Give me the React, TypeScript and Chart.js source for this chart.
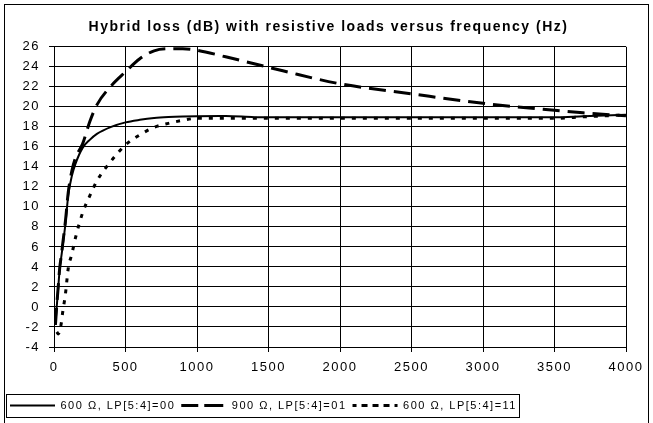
import React, { useEffect, useRef } from 'react';
import { Chart, registerables } from 'chart.js';

Chart.register(...registerables);

const FONT = "Arial, 'Liberation Sans', sans-serif";

const chartTitle = 'Hybrid loss (dB) with resistive loads versus frequency (Hz)';
const seriesLabels = ['600 Ω, LP[5:4]=00', '900 Ω, LP[5:4]=01', '600 Ω, LP[5:4]=11'];

const frequencyHz = [10, 20, 30, 40, 50, 60, 80, 100, 125, 150, 200, 250, 300, 400, 500, 600, 700, 800, 900, 1000, 1200, 1400, 1600, 2000, 2500, 3000, 3500, 3700, 4000];

const loss600_00 = [-1.7, 0.2, 2.0, 3.8, 4.9, 6.0, 8.3, 11.2, 13.1, 14.3, 15.9, 16.7, 17.3, 18.0, 18.45, 18.7, 18.88, 18.98, 19.04, 19.07, 19.08, 18.97, 18.95, 18.95, 18.95, 18.95, 18.95, 19.05, 19.2];
const loss900_01 = [-1.8, 0.3, 2.1, 3.9, 5.0, 6.2, 8.6, 11.5, 13.6, 14.9, 16.3, 18.5, 20.2, 22.1, 23.5, 24.8, 25.6, 25.8, 25.8, 25.65, 25.0, 24.3, 23.6, 22.3, 21.3, 20.35, 19.65, 19.4, 19.1];
const loss600_11 = [null, -2.5, -2.7, -2.4, -1.7, -0.6, 1.3, 3.9, 5.3, 6.9, 9.4, 11.1, 12.6, 14.6, 16.2, 17.2, 17.95, 18.35, 18.65, 18.85, 18.85, 18.85, 18.85, 18.85, 18.85, 18.85, 18.85, 19.0, 19.2];

const xMin = 0, xMax = 4000, xStep = 500;
const yMin = -4, yMax = 26, yStep = 2;

const toPoints = (vals: (number | null)[]) => frequencyHz.map((x, i) => ({ x, y: vals[i] }));

const setSpacing = (chart: any) => { try { chart.ctx.letterSpacing = '1.5px'; } catch (e) { /* ignore */ } };

const spacingPlugin = {
  id: 'spacing',
  beforeUpdate: setSpacing,
  beforeLayout: setSpacing,
  beforeDraw: setSpacing,
};

const framePlugin = {
  id: 'frames',
  afterDraw(chart: any) {
    const ctx = chart.ctx;
    ctx.save();
    ctx.strokeStyle = '#000';
    ctx.lineWidth = 1;
    ctx.setLineDash([]);
    ctx.strokeRect(4.5, 4.5, 644, 440);
    const boxes = chart.legend && chart.legend.legendHitBoxes;
    if (boxes && boxes.length) {
      let l = Infinity, r = -Infinity, t = Infinity, b = -Infinity;
      boxes.forEach((h: any) => {
        l = Math.min(l, h.left); r = Math.max(r, h.left + h.width);
        t = Math.min(t, h.top); b = Math.max(b, h.top + h.height);
      });
      ctx.strokeRect(Math.round(l - 4) + 0.5, Math.round(t - 6) + 0.5, Math.round(r - l + 6), Math.round(b - t + 12));
    }
    ctx.restore();
  },
};

export default function App() {
  const ref = useRef<HTMLCanvasElement | null>(null);
  useEffect(() => {
    document.body.style.margin = '0';
    const canvas = ref.current!;
    const chart = new Chart(canvas, {
      type: 'line',
      data: {
        datasets: [
          { label: seriesLabels[0], data: toPoints(loss600_00), borderColor: '#000', backgroundColor: 'rgba(0,0,0,0)', borderWidth: 2, pointRadius: 0, cubicInterpolationMode: 'monotone' },
          { label: seriesLabels[1], data: toPoints(loss900_01), borderColor: '#000', backgroundColor: 'rgba(0,0,0,0)', borderWidth: 3, borderDash: [17, 8], pointRadius: 0, cubicInterpolationMode: 'monotone' },
          { label: seriesLabels[2], data: toPoints(loss600_11), borderColor: '#000', backgroundColor: 'rgba(0,0,0,0)', borderWidth: 3, borderDash: [4, 7], pointRadius: 0, cubicInterpolationMode: 'monotone' },
        ],
      } as any,
      options: {
        responsive: false,
        animation: false,
        devicePixelRatio: 1,
        layout: { padding: { left: 4, right: 0, top: 0, bottom: 2 } },
        plugins: {
          title: { display: true, text: chartTitle, color: '#000', font: { family: FONT, size: 14, weight: 'bold' }, padding: { top: 19, bottom: 11 } },
          legend: {
            position: 'bottom',
            align: 'start',
            labels: { color: '#000', font: { family: FONT, size: 11 }, boxWidth: 45, boxHeight: 0, padding: 6 },
          },
          tooltip: { enabled: false },
        },
        scales: {
          x: {
            type: 'linear', min: xMin, max: xMax,
            ticks: { stepSize: xStep, color: '#000', font: { family: FONT, size: 13 }, maxRotation: 0, padding: 8, callback: (v: any) => String(v) },
            grid: { color: '#000', lineWidth: 1, tickLength: 5 },
            border: { color: '#000' },
            afterFit: (s: any) => { s.height = 47; },
          },
          y: {
            type: 'linear', min: yMin, max: yMax,
            ticks: { stepSize: yStep, color: '#000', font: { family: FONT, size: 13 }, padding: 9 },
            grid: { color: '#000', lineWidth: 1, tickLength: 5 },
            border: { color: '#000' },
            afterFit: (s: any) => { s.width = 50; },
          },
          yRightSpace: {
            type: 'linear', position: 'right', display: true,
            ticks: { display: false },
            grid: { display: false, drawTicks: false },
            border: { display: false },
            afterFit: (s: any) => { s.width = 27; },
          },
        },
      } as any,
      plugins: [spacingPlugin, framePlugin],
    });
    return () => chart.destroy();
  }, []);
  return <canvas ref={ref} width={653} height={423} style={{ display: 'block' }} />;
}
